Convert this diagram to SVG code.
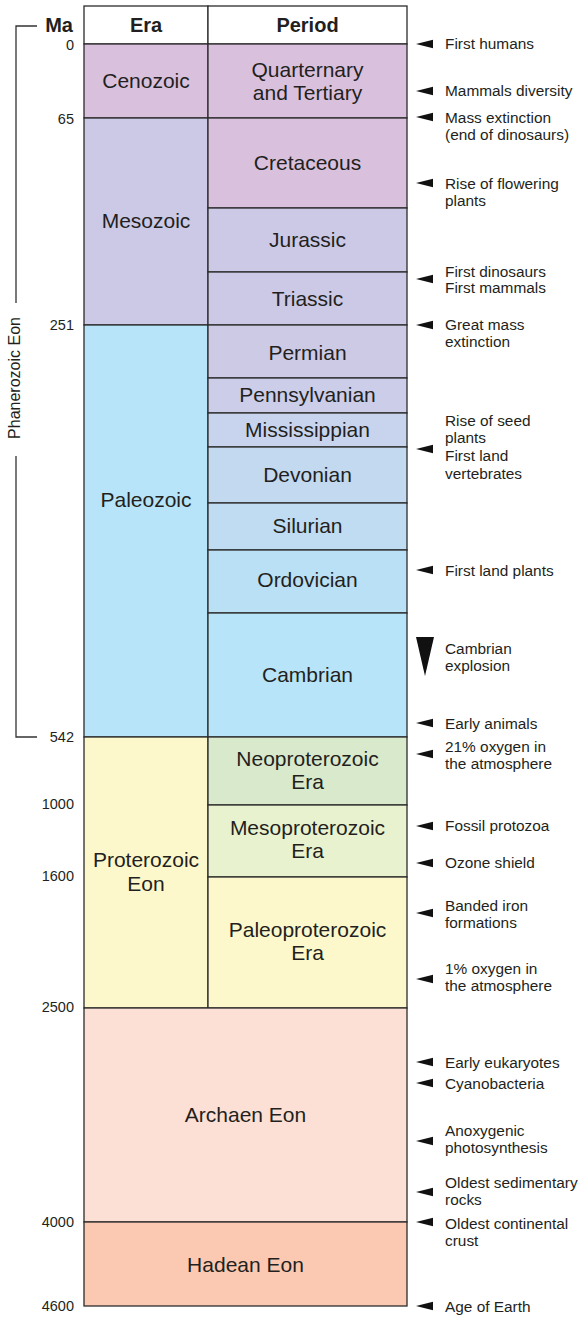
<svg xmlns="http://www.w3.org/2000/svg" xmlns:xlink="http://www.w3.org/1999/xlink" width="583" height="1317" viewBox="0 0 583 1317">
<style>
.b{stroke:#2b2b2b;stroke-width:1.3}
.t{font-family:"Liberation Sans",Arial,sans-serif;font-size:21px;fill:#231f20;text-anchor:middle}
.h{font-family:"Liberation Sans",Arial,sans-serif;font-size:20px;font-weight:bold;fill:#231f20;text-anchor:middle}
.n{font-family:"Liberation Sans",Arial,sans-serif;font-size:14.5px;fill:#231f20;text-anchor:end}
.a{font-family:"Liberation Sans",Arial,sans-serif;font-size:15.4px;fill:#231f20}
.ln{fill:none;stroke:#333;stroke-width:1.3}
</style>
<defs>
<path id="arr" d="M0,0 L17,-4.3 L17,4.3 Z" fill="#111"/>
</defs>
<rect width="583" height="1317" fill="#fff"/>
<g id="header">
<rect class="b" x="84" y="6" width="124" height="38" fill="#fff"/>
<rect class="b" x="208" y="6" width="199" height="38" fill="#fff"/>
<text class="h" x="146" y="32">Era</text>
<text class="h" x="307.5" y="32">Period</text>
<text class="h" x="73" y="32" style="text-anchor:end">Ma</text>
</g>
<g id="cenozoic"><rect class="b" x="84" y="44" width="124" height="74" fill="#d9c1de"/><text class="t" x="146" y="88">Cenozoic</text></g>
<g id="mesozoic"><rect class="b" x="84" y="118" width="124" height="207" fill="#ccc9e6"/><text class="t" x="146" y="228">Mesozoic</text></g>
<g id="paleozoic"><rect class="b" x="84" y="325" width="124" height="412" fill="#b7e4f8"/><text class="t" x="146" y="507">Paleozoic</text></g>
<g id="proterozoic"><rect class="b" x="84" y="737" width="124" height="271" fill="#fdf8cc"/><text class="t" x="146" y="867">Proterozoic</text><text class="t" x="146" y="891">Eon</text></g>
<g id="quarternary"><rect class="b" x="208" y="44" width="199" height="74" fill="#d9c1de"/><text class="t" x="307.5" y="77">Quarternary</text><text class="t" x="307.5" y="100">and Tertiary</text></g>
<g id="cretaceous"><rect class="b" x="208" y="118" width="199" height="90" fill="#d9c1de"/><text class="t" x="307.5" y="170">Cretaceous</text></g>
<g id="jurassic"><rect class="b" x="208" y="208" width="199" height="64" fill="#ccc9e6"/><text class="t" x="307.5" y="247">Jurassic</text></g>
<g id="triassic"><rect class="b" x="208" y="272" width="199" height="53" fill="#ccc9e6"/><text class="t" x="307.5" y="306">Triassic</text></g>
<g id="permian"><rect class="b" x="208" y="325" width="199" height="53" fill="#cdcae6"/><text class="t" x="307.5" y="360">Permian</text></g>
<g id="pennsylvanian"><rect class="b" x="208" y="378" width="199" height="35" fill="#cbcde9"/><text class="t" x="307.5" y="402">Pennsylvanian</text></g>
<g id="mississippian"><rect class="b" x="208" y="413" width="199" height="34" fill="#c8d4ee"/><text class="t" x="307.5" y="437">Mississippian</text></g>
<g id="devonian"><rect class="b" x="208" y="447" width="199" height="56" fill="#c2d9f0"/><text class="t" x="307.5" y="482">Devonian</text></g>
<g id="silurian"><rect class="b" x="208" y="503" width="199" height="47" fill="#bfdcf2"/><text class="t" x="307.5" y="533">Silurian</text></g>
<g id="ordovician"><rect class="b" x="208" y="550" width="199" height="63" fill="#bae0f5"/><text class="t" x="307.5" y="587">Ordovician</text></g>
<g id="cambrian"><rect class="b" x="208" y="613" width="199" height="124" fill="#b7e4f8"/><text class="t" x="307.5" y="682">Cambrian</text></g>
<g id="neoproterozoic"><rect class="b" x="208" y="737" width="199" height="68" fill="#d9e9cc"/><text class="t" x="307.5" y="766">Neoproterozoic</text><text class="t" x="307.5" y="789">Era</text></g>
<g id="mesoproterozoic"><rect class="b" x="208" y="805" width="199" height="72" fill="#e9f2cf"/><text class="t" x="307.5" y="835">Mesoproterozoic</text><text class="t" x="307.5" y="858">Era</text></g>
<g id="paleoproterozoic"><rect class="b" x="208" y="877" width="199" height="131" fill="#fdf8cc"/><text class="t" x="307.5" y="937">Paleoproterozoic</text><text class="t" x="307.5" y="960">Era</text></g>
<g id="archaen"><rect class="b" x="84" y="1008" width="323" height="214" fill="#fde0d5"/><text class="t" x="245.5" y="1122">Archaen Eon</text></g>
<g id="hadean"><rect class="b" x="84" y="1222" width="323" height="84" fill="#fbc9b2"/><text class="t" x="245.5" y="1272">Hadean Eon</text></g>
<g id="ages">
<text class="n" x="74" y="50">0</text>
<text class="n" x="74" y="124">65</text>
<text class="n" x="74" y="330">251</text>
<text class="n" x="74" y="742">542</text>
<text class="n" x="74" y="809">1000</text>
<text class="n" x="74" y="881">1600</text>
<text class="n" x="74" y="1012">2500</text>
<text class="n" x="74" y="1227">4000</text>
<text class="n" x="74" y="1311">4600</text>
</g>
<g id="phanerozoic">
<text class="a" transform="translate(20,378) rotate(-90)" text-anchor="middle" style="font-size:16px">Phanerozoic Eon</text>
</g>
<g id="connectors">
<path class="ln" d="M37,26 H16 V303"/>
<path class="ln" d="M16,456 V737 H37"/>
<use xlink:href="#arr" x="416" y="44"/>
<use xlink:href="#arr" x="416" y="91"/>
<use xlink:href="#arr" x="416" y="117"/>
<use xlink:href="#arr" x="416" y="183"/>
<use xlink:href="#arr" x="416" y="279"/>
<use xlink:href="#arr" x="416" y="325"/>
<use xlink:href="#arr" x="416" y="449"/>
<use xlink:href="#arr" x="416" y="570"/>
<path d="M416,637 H434 L425,676 Z" fill="#111"/>
<use xlink:href="#arr" x="416" y="723"/>
<use xlink:href="#arr" x="416" y="754"/>
<use xlink:href="#arr" x="416" y="826"/>
<use xlink:href="#arr" x="416" y="863"/>
<use xlink:href="#arr" x="416" y="913"/>
<use xlink:href="#arr" x="416" y="979"/>
<use xlink:href="#arr" x="416" y="1062"/>
<use xlink:href="#arr" x="416" y="1083"/>
<use xlink:href="#arr" x="416" y="1141"/>
<use xlink:href="#arr" x="416" y="1192"/>
<use xlink:href="#arr" x="416" y="1222"/>
<use xlink:href="#arr" x="416" y="1306"/>
</g>
<g id="events">
<text class="a" x="445" y="49">First humans</text>
<text class="a" x="445" y="96">Mammals diversity</text>
<text class="a" x="445" y="123">Mass extinction</text>
<text class="a" x="445" y="140">(end of dinosaurs)</text>
<text class="a" x="445" y="189">Rise of flowering</text>
<text class="a" x="445" y="206">plants</text>
<text class="a" x="445" y="277">First dinosaurs</text>
<text class="a" x="445" y="293">First mammals</text>
<text class="a" x="445" y="330">Great mass</text>
<text class="a" x="445" y="347">extinction</text>
<text class="a" x="445" y="426">Rise of seed</text>
<text class="a" x="445" y="443">plants</text>
<text class="a" x="445" y="461">First land</text>
<text class="a" x="445" y="479">vertebrates</text>
<text class="a" x="445" y="576">First land plants</text>
<text class="a" x="445" y="654">Cambrian</text>
<text class="a" x="445" y="671">explosion</text>
<text class="a" x="445" y="729">Early animals</text>
<text class="a" x="445" y="752">21% oxygen in</text>
<text class="a" x="445" y="769">the atmosphere</text>
<text class="a" x="445" y="831">Fossil protozoa</text>
<text class="a" x="445" y="868">Ozone shield</text>
<text class="a" x="445" y="911">Banded iron</text>
<text class="a" x="445" y="928">formations</text>
<text class="a" x="445" y="974">1% oxygen in</text>
<text class="a" x="445" y="991">the atmosphere</text>
<text class="a" x="445" y="1068">Early eukaryotes</text>
<text class="a" x="445" y="1089">Cyanobacteria</text>
<text class="a" x="445" y="1136">Anoxygenic</text>
<text class="a" x="445" y="1153">photosynthesis</text>
<text class="a" x="445" y="1188">Oldest sedimentary</text>
<text class="a" x="445" y="1205">rocks</text>
<text class="a" x="445" y="1229">Oldest continental</text>
<text class="a" x="445" y="1246">crust</text>
<text class="a" x="445" y="1312">Age of Earth</text>
</g>
</svg>
